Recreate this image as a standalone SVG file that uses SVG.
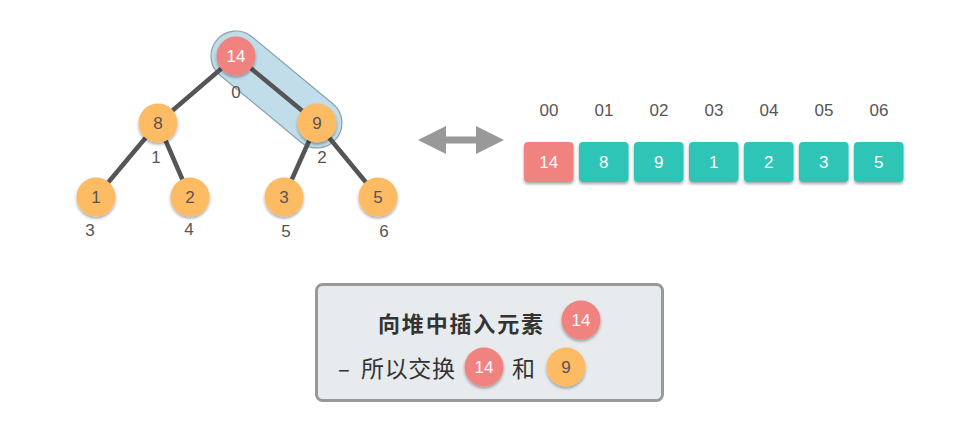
<svg xmlns="http://www.w3.org/2000/svg" width="980" height="443" viewBox="0 0 980 443">
<defs>
<filter id="sh" x="-30%" y="-30%" width="160%" height="170%">
<feDropShadow dx="0" dy="2" stdDeviation="1.5" flood-color="#000" flood-opacity="0.35"/>
</filter>
<style>
.t{font-family:"Liberation Sans","Noto Sans CJK SC",sans-serif;text-anchor:middle;dominant-baseline:central}
.or{fill:#FDBB63}
.rd{fill:#F0837F}
.tl{fill:#2EC5B6}
.nt{font-size:17px;fill:#555}
.wt{font-size:17px;fill:#fff}
.idx{font-size:17px;fill:#555}
.edge{stroke:#555;stroke-width:4.5;stroke-linecap:round}
.cjk{font-family:"Noto Sans CJK SC",sans-serif;fill:#333;dominant-baseline:central}
</style>
</defs>
<rect width="980" height="443" fill="#fff"/>
<g id="highlight">
<rect x="-25" y="-25" width="155" height="50" rx="25" transform="translate(236,56) rotate(39.6)" fill="#C0DDE9" stroke="#86A2AE" stroke-width="1.2"/>
</g>
<g id="connectors">
<line class="edge" x1="236" y1="56" x2="158" y2="123"/>
<line class="edge" x1="236" y1="56" x2="317" y2="123"/>
<line class="edge" x1="158" y1="123" x2="96" y2="197"/>
<line class="edge" x1="158" y1="123" x2="190" y2="197"/>
<line class="edge" x1="317" y1="123" x2="284" y2="197"/>
<line class="edge" x1="317" y1="123" x2="378" y2="197"/>
</g>
<g id="n0"><circle class="rd" cx="236" cy="56" r="19.5" filter="url(#sh)"/><text class="t wt" x="236" y="56">14</text><text class="t idx" x="236" y="92">0</text></g>
<g id="n1"><circle class="or" cx="158" cy="123" r="19.5" filter="url(#sh)"/><text class="t nt" x="158" y="123">8</text><text class="t idx" x="156" y="157">1</text></g>
<g id="n2"><circle class="or" cx="317" cy="123" r="19.5" filter="url(#sh)"/><text class="t nt" x="317" y="123">9</text><text class="t idx" x="322" y="157">2</text></g>
<g id="n3"><circle class="or" cx="96" cy="197" r="19.5" filter="url(#sh)"/><text class="t nt" x="96" y="197">1</text><text class="t idx" x="90" y="230">3</text></g>
<g id="n4"><circle class="or" cx="190" cy="197" r="19.5" filter="url(#sh)"/><text class="t nt" x="190" y="197">2</text><text class="t idx" x="189" y="229">4</text></g>
<g id="n5"><circle class="or" cx="284" cy="197" r="19.5" filter="url(#sh)"/><text class="t nt" x="284" y="197">3</text><text class="t idx" x="286" y="231">5</text></g>
<g id="n6"><circle class="or" cx="378" cy="197" r="19.5" filter="url(#sh)"/><text class="t nt" x="378" y="197">5</text><text class="t idx" x="384" y="231">6</text></g>
<g id="arrow">
<polygon points="418,140 446,126 446,136.5 476,136.5 476,126 504,140 476,154 476,143.5 446,143.5 446,154" fill="#999"/>
</g>
<g id="array">
<g id="c0"><rect class="rd" x="524" y="142" width="49.5" height="40" rx="4" filter="url(#sh)"/><text class="t wt" x="548.75" y="162">14</text><text class="t idx" x="549" y="110">00</text></g>
<g id="c1"><rect class="tl" x="579" y="142" width="49.5" height="40" rx="4" filter="url(#sh)"/><text class="t wt" x="603.75" y="162">8</text><text class="t idx" x="604" y="110">01</text></g>
<g id="c2"><rect class="tl" x="634" y="142" width="49.5" height="40" rx="4" filter="url(#sh)"/><text class="t wt" x="658.75" y="162">9</text><text class="t idx" x="659" y="110">02</text></g>
<g id="c3"><rect class="tl" x="689" y="142" width="49.5" height="40" rx="4" filter="url(#sh)"/><text class="t wt" x="713.75" y="162">1</text><text class="t idx" x="714" y="110">03</text></g>
<g id="c4"><rect class="tl" x="744" y="142" width="49.5" height="40" rx="4" filter="url(#sh)"/><text class="t wt" x="768.75" y="162">2</text><text class="t idx" x="769" y="110">04</text></g>
<g id="c5"><rect class="tl" x="799" y="142" width="49.5" height="40" rx="4" filter="url(#sh)"/><text class="t wt" x="823.75" y="162">3</text><text class="t idx" x="824" y="110">05</text></g>
<g id="c6"><rect class="tl" x="854" y="142" width="49.5" height="40" rx="4" filter="url(#sh)"/><text class="t wt" x="878.75" y="162">5</text><text class="t idx" x="879" y="110">06</text></g>
</g>
<g id="note">
<rect x="316.5" y="284.5" width="346" height="116" rx="6" fill="#E8EBEE" stroke="#999" stroke-width="3"/>
<text class="cjk" x="378" y="322" font-size="22" font-weight="600" textLength="165">向堆中插入元素</text>
<circle class="rd" cx="581" cy="320" r="19.5" filter="url(#sh)"/><text class="t wt" x="581" y="320">14</text>
<text class="cjk" x="338" y="367" font-size="22">–</text>
<text class="cjk" x="361" y="367" font-size="23" textLength="94">所以交换</text>
<circle class="rd" cx="484" cy="367" r="19.5" filter="url(#sh)"/><text class="t wt" x="484" y="367">14</text>
<text class="cjk" x="512" y="367" font-size="23">和</text>
<circle class="or" cx="566" cy="367" r="19.5" filter="url(#sh)"/><text class="t nt" x="566" y="367">9</text>
</g>
</svg>
